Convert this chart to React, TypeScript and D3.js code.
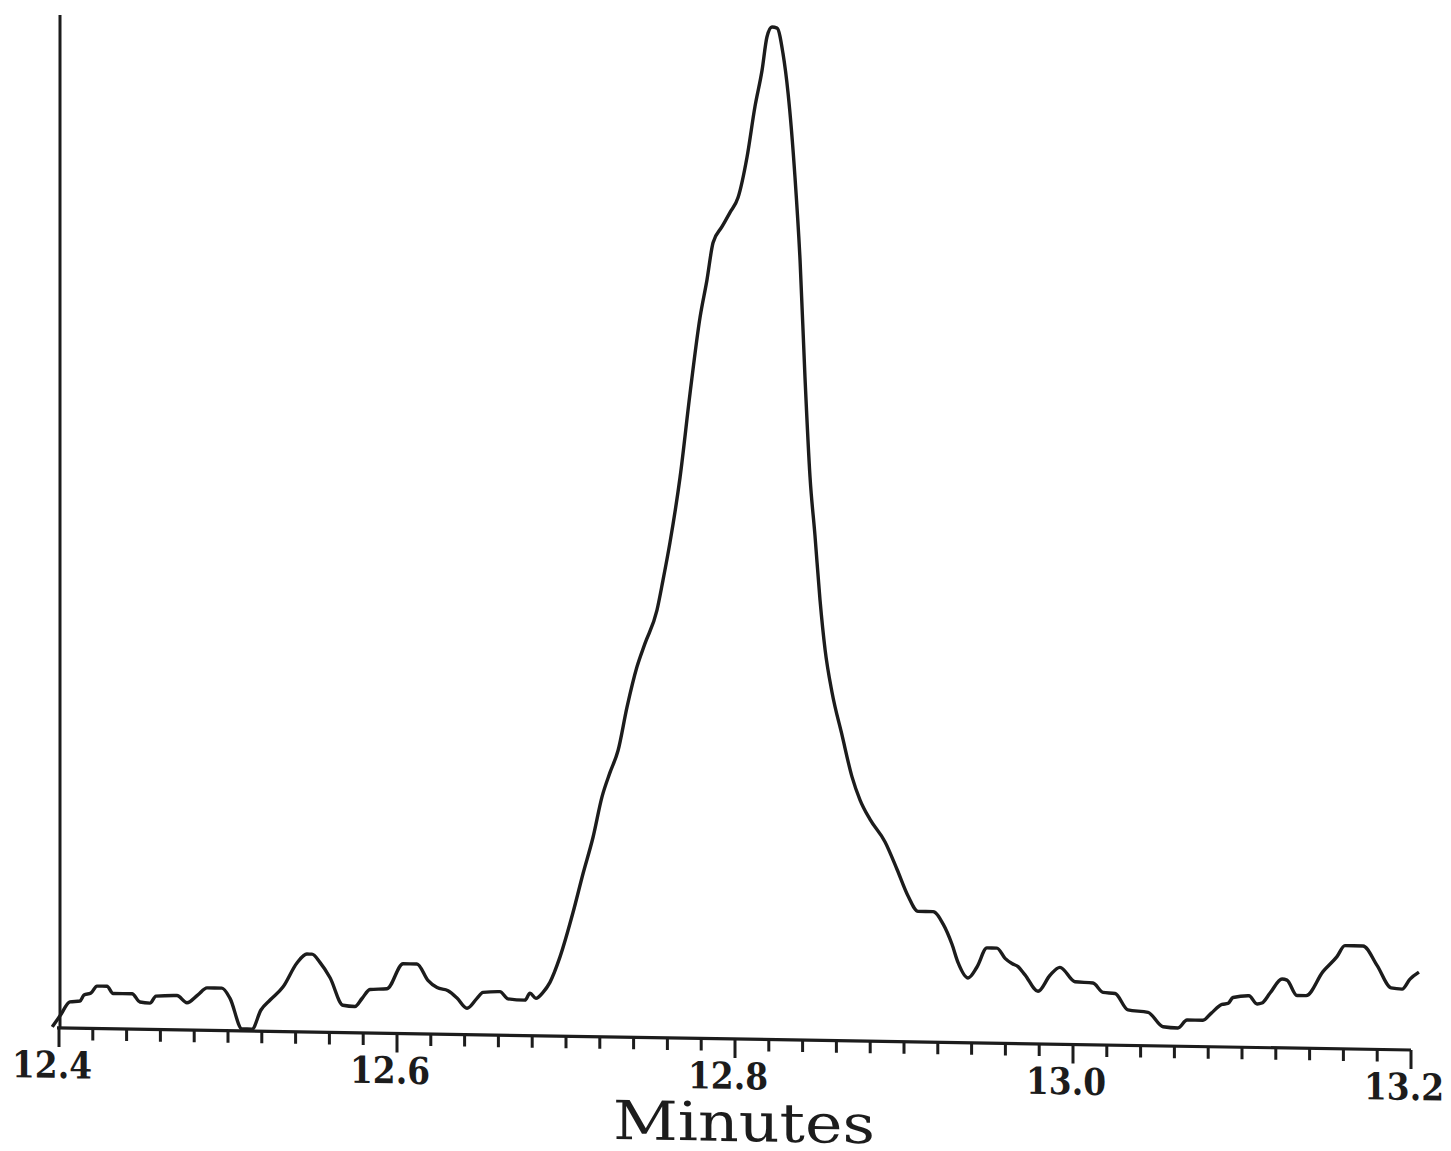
import React from "react";
import * as d3 from "d3";

// Retention time (minutes) and relative intensity (% of peak height)
const minutes: number[] = [
  12.396, 12.4006, 12.4065, 12.4124, 12.4148, 12.4189, 12.4225, 12.4284, 12.432, 12.4432,
  12.4479, 12.4538, 12.4574, 12.4698, 12.4757, 12.4822, 12.4876, 12.4964, 12.5012, 12.5083,
  12.5142, 12.5195, 12.5249, 12.5325, 12.5408, 12.5467, 12.5497, 12.5544, 12.5604, 12.568,
  12.5751, 12.5793, 12.584, 12.5941, 12.6036, 12.6118, 12.6183, 12.6237, 12.6302, 12.6355,
  12.6414, 12.6473, 12.6509, 12.6609, 12.6657, 12.6757, 12.6787, 12.6822, 12.6864, 12.6905,
  12.6964, 12.7041, 12.7101, 12.716, 12.7213, 12.726, 12.7308, 12.7361, 12.742, 12.7467,
  12.7538, 12.7574, 12.7615, 12.7675, 12.7734, 12.7793, 12.7834, 12.787, 12.7923, 12.797,
  12.8018, 12.8071, 12.8118, 12.816, 12.8189, 12.8219, 12.8249, 12.8284, 12.8314, 12.8355,
  12.8385, 12.8414, 12.8444, 12.8473, 12.8503, 12.8533, 12.8574, 12.8633, 12.8692, 12.874,
  12.8799, 12.8888, 12.8959, 12.9024, 12.9083, 12.9172, 12.9231, 12.9284, 12.932, 12.9379,
  12.9432, 12.9491, 12.955, 12.9598, 12.9639, 12.9675, 12.9716, 12.9793, 12.9864, 12.9923,
  13.0012, 13.0118, 13.0178, 13.0249, 13.0325, 13.0444, 13.0533, 13.0621, 13.0675, 13.0769,
  13.0817, 13.0882, 13.0917, 13.0947, 13.1041, 13.1089, 13.1118, 13.1166, 13.1237, 13.1266,
  13.1325, 13.1379, 13.1479, 13.1562, 13.1609, 13.1716, 13.1799, 13.1882, 13.1947, 13.1994,
  13.2047,
];

const intensity: number[] = [
  0.1, 1.2, 2.6, 2.7, 3.3, 3.5, 4.2, 4.2, 3.5, 3.5,
  2.7, 2.6, 3.3, 3.4, 2.7, 3.5, 4.2, 4.2, 3.2, 0.2,
  0.2, 2.1, 3.1, 4.4, 6.8, 7.7, 7.7, 6.9, 5.4, 2.7,
  2.6, 3.4, 4.3, 4.4, 6.9, 6.9, 5.3, 4.6, 4.3, 3.6,
  2.6, 3.6, 4.2, 4.3, 3.6, 3.5, 4.2, 3.7, 4.3, 5.3,
  7.8, 12.2, 16.1, 19.7, 23.7, 26.1, 28.3, 32.6, 36.6, 38.9,
  42.2, 45.2, 48.9, 55.4, 63.7, 71.2, 74.9, 78.6, 80.2, 81.6,
  83.1, 87.1, 92.1, 95.7, 99.0, 100, 99.9, 97.4, 93.5, 85.2,
  77.0, 65.5, 55.6, 49.9, 43.5, 38.6, 34.4, 30.2, 26.1, 23.8,
  21.9, 19.7, 17.0, 14.4, 12.9, 12.9, 11.7, 9.7, 7.9, 6.4,
  7.5, 9.4, 9.4, 8.4, 7.9, 7.6, 6.8, 5.2, 6.8, 7.6,
  6.2, 6.1, 5.2, 5.1, 3.5, 3.3, 1.9, 1.8, 2.6, 2.6,
  3.3, 4.2, 4.3, 4.9, 5.1, 4.3, 4.4, 5.4, 6.8, 6.7,
  5.2, 5.2, 7.6, 9.1, 10.2, 10.2, 8.3, 6.1, 6.0, 7.0,
  7.7,
];

const majorTicks: number[] = [12.4, 12.6, 12.8, 13.0, 13.2];
const tickLabels: string[] = ["12.4", "12.6", "12.8", "13.0", "13.2"];
const xDomain: [number, number] = [12.4, 13.2];
const xTitle = "Minutes";

export default function App() {
  const W = 1451;
  const H = 1151;
  const ox = 59;
  const oy = 1028;
  const plotW = 1352;
  const plotH = 1013;
  const skew = (Math.atan(22 / 1352) * 180) / Math.PI;

  const x = d3.scaleLinear().domain(xDomain).range([0, plotW]);
  const y = d3.scaleLinear().domain([0, 100]).range([0, -plotH + 0.4]);

  const data = minutes.map((m, i) => ({ m, v: intensity[i] }));
  const line = d3
    .line<{ m: number; v: number }>()
    .x((d) => x(d.m))
    .y((d) => y(d.v))
    .curve(d3.curveMonotoneX);

  const minorTicks = d3.range(0, 41).map((i) => 12.4 + i * 0.02);
  const isMajor = (t: number) => majorTicks.some((mt) => Math.abs(mt - t) < 1e-6);

  const ink = "#1c1c1c";

  return (
    <svg
      width={W}
      height={H}
      style={{ position: "absolute", left: 0, top: 0, display: "block", background: "#fff" }}
    >
      <rect x={0} y={0} width={W} height={H} fill="#fff" />
      <g transform={`translate(${ox},${oy}) skewY(${skew})`}>
        {/* y axis */}
        <line x1={1} x2={1} y1={0} y2={-plotH} stroke={ink} strokeWidth={3} />
        {/* x axis */}
        <line x1={x(12.4) - 2} x2={x(13.2)} y1={0} y2={0} stroke={ink} strokeWidth={3.2} />
        {minorTicks.map((t, i) => (
          <line
            key={i}
            x1={x(t)}
            x2={x(t)}
            y1={0}
            y2={isMajor(t) ? 19 : 12}
            stroke={ink}
            strokeWidth={3}
          />
        ))}
        {majorTicks.map((t, i) => (
          <text
            key={t}
            x={x(t) - 7}
            y={50}
            textAnchor="middle"
            fontFamily="'DejaVu Serif', serif"
            fontWeight="bold"
            fontSize={37}
            textLength={80}
            lengthAdjust="spacingAndGlyphs"
            fill={ink}
          >
            {tickLabels[i]}
          </text>
        ))}
        <text
          x={x(12.8) + 9}
          y={102}
          textAnchor="middle"
          fontFamily="'DejaVu Serif', serif"
          fontSize={54}
          textLength={262}
          lengthAdjust="spacingAndGlyphs"
          fill={ink}
        >
          {xTitle}
        </text>
        <path d={line(data) || ""} fill="none" stroke={ink} strokeWidth={3.4} strokeLinejoin="round" />
      </g>
    </svg>
  );
}
